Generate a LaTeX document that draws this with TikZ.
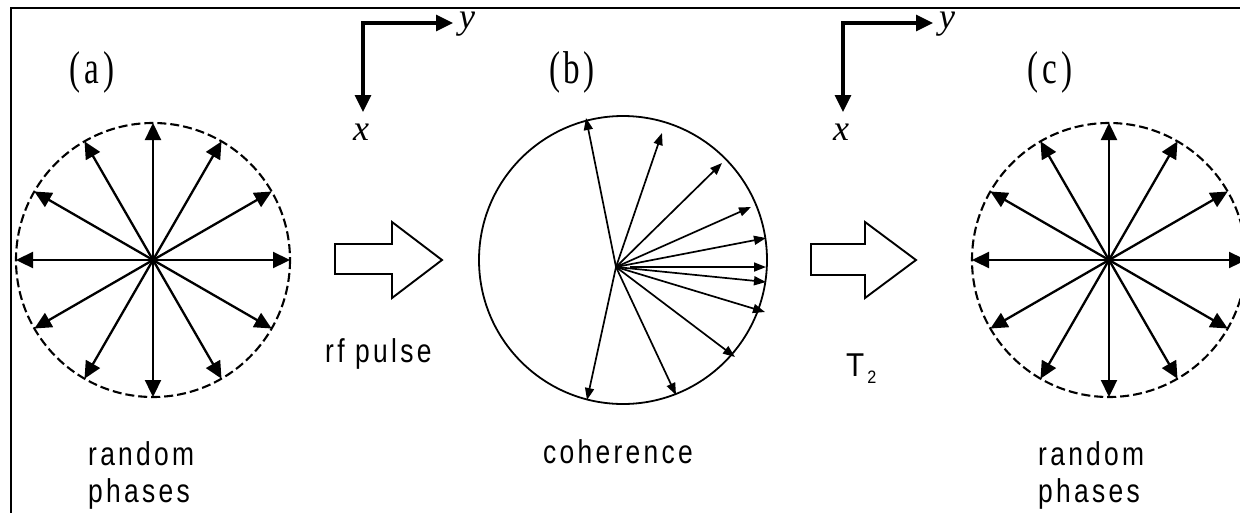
\documentclass[tikz,border=0pt]{standalone}
\usepackage{fontspec}
\setmainfont{Liberation Serif}
\newfontfamily\lblfont[FakeStretch=0.8,LetterSpace=10]{Liberation Sans}
\newfontfamily\plainsans[FakeStretch=0.9]{Liberation Sans}
\newfontfamily\tagfont[FakeStretch=0.72,LetterSpace=8]{Liberation Serif}
\newfontfamily\axfont{Liberation Serif}
\usetikzlibrary{arrows.meta,calc}
\begin{document}
\begin{tikzpicture}[x=1pt,y=-1pt,
  spoke/.style={line width=2.3pt,-{Triangle[length=17pt,width=16pt]}},
  thinspoke/.style={line width=1.7pt,-{Triangle[length=12pt,width=9pt]}},
  axis/.style={line width=3.2pt,{Triangle[length=17pt,width=16pt]}-{Triangle[length=17pt,width=16pt]}},
  dashcirc/.style={line width=2.1pt,dash pattern=on 9pt off 4pt},
  blockarr/.style={line width=1.9pt,line join=miter},
  caption/.style={font=\lblfont\fontsize{33}{37}\selectfont,inner sep=0pt,anchor=base west},
  tag/.style={font=\tagfont\fontsize{46}{46}\selectfont,inner sep=0pt},
  axlab/.style={font=\axfont\itshape\fontsize{36}{36}\selectfont,inner sep=0pt}]
\useasboundingbox (0,0) rectangle (1240,512);
% frame
\draw[line width=2.6pt] (11,520) -- (11,8) -- (1250,8);
% ---------- (a)
\coordinate (ca) at (153,260);
\draw[dashcirc] (ca) circle[radius=137];
\foreach \i in {0,...,11}{
  \path (ca) ++(\i*30:137) coordinate (ta\i);
  \draw[spoke] (ca) -- (ta\i);
}
\fill (ca) circle[radius=4];
% ---------- (c)
\coordinate (cc) at (1109,260);
\draw[dashcirc] (cc) circle[radius=137];
\foreach \i in {0,...,11}{
  \path (cc) ++(\i*30:137) coordinate (tc\i);
  \draw[spoke] (cc) -- (tc\i);
}
\fill (cc) circle[radius=4];
% ---------- (b)
\coordinate (cb) at (623,260);
\draw[line width=1.8pt] (cb) circle[radius=144];
\coordinate (ob) at (616,267);
\coordinate (ob2) at (630,267);
\coordinate (tb1) at (586,118);
\coordinate (tb2) at (662,133);
\coordinate (tb3) at (722,163);
\coordinate (tb4) at (751,207);
\coordinate (tb5) at (766,238);
\coordinate (tb6) at (766,267);
\coordinate (tb7) at (766,282);
\coordinate (tb8) at (765,312);
\coordinate (tb9) at (735,357);
\coordinate (tb10) at (676,395);
\coordinate (tb11) at (587,400);
\foreach \i in {1,2,3,4,5,7,8,9,10,11}{
  \draw[thinspoke] (ob) -- (tb\i);
}
\draw[thinspoke] (ob2) -- (tb6);
% ---------- block arrows
\draw[blockarr] (335,244) -- (392,244) -- (392,222) -- (442,260) -- (392,298) -- (392,274) -- (335,274) -- cycle;
\draw[blockarr] (811,244) -- (865,244) -- (865,222) -- (916,260) -- (865,298) -- (865,275) -- (811,275) -- cycle;
% ---------- axes
\coordinate (o1) at (363,23);
\coordinate (y1) at (453,23);
\coordinate (x1) at (363,112);
\draw[axis] (y1) -- (o1) -- (x1);
\node[axlab] (ly1) at (467,24) {y};
\node[axlab] (lx1) at (361,132) {x};
\coordinate (o2) at (843,23);
\coordinate (y2) at (933,23);
\coordinate (x2) at (843,112);
\draw[axis] (y2) -- (o2) -- (x2);
\node[axlab] (ly2) at (947,24) {y};
\node[axlab] (lx2) at (841,132) {x};
% ---------- tags
\node[tag] (taga) at (92,72) {(a)};
\node[tag] (tagb) at (572,72) {(b)};
\node[tag] (tagc) at (1050,72) {(c)};
% ---------- captions
\node[caption] (capa1) at (88,465) {random};
\node[caption] (capa2) at (88,502) {phases};
\node[caption] (capc1) at (1038,465) {random};
\node[caption] (capc2) at (1038,502) {phases};
\node[caption] (capb) at (543,463) {coherence};
\node[caption] (rf) at (325,362) {rf pulse};
\node[inner sep=0pt,anchor=base west,font=\plainsans\fontsize{33}{33}\selectfont] (t2) at (846,376) {T\raisebox{-7pt}{\fontsize{18}{18}\selectfont\,2}};
\end{tikzpicture}
\end{document}
